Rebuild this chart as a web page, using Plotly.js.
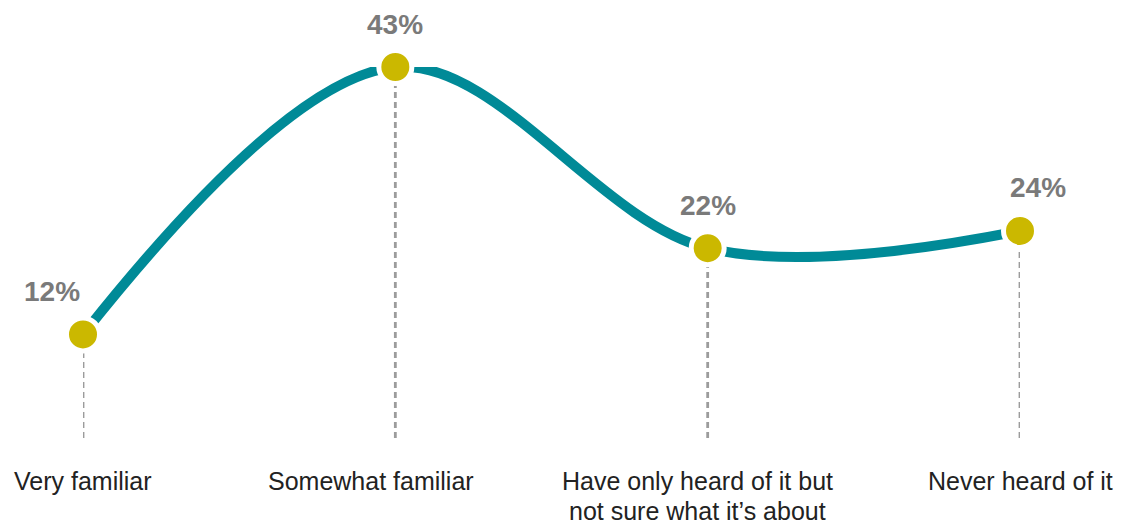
<!DOCTYPE html>
<html>
<head>
<meta charset="utf-8">
<script src="https://cdn.plot.ly/plotly-3.0.1.min.js"></script>
<style>html,body{margin:0;padding:0;background:#fff;}#chart{width:1131px;height:525px;}</style>
</head>
<body>
<div id="chart"></div>
<script>
// ---- data ----
const categories = ["Very familiar", "Somewhat familiar", "Have only heard of it but<br>not sure what it’s about", "Never heard of it"];
const values = [12, 43, 22, 24];
const valueLabels = ["12%", "43%", "22%", "24%"];

// ---- style ----
const TEAL = "#008a97";
const GOLD = "#cbb800";
const LABEL_GREY = "#7a7a7a";
const labelXShift = [-31, 0, 0, 18];
const catXShift = [0, -24, -10, 0];

const traces = [];
// dashed drop lines from each point to the baseline
categories.forEach((c, i) => {
  traces.push({
    x: [c, c], y: [0, values[i]],
    type: "scatter", mode: "lines",
    line: {color: "#9c9c9c", width: 2.8, dash: "6px,4px"},
    hoverinfo: "skip", showlegend: false
  });
});
// main smooth line with markers
traces.push({
  x: categories, y: values,
  type: "scatter", mode: "lines+markers",
  line: {color: TEAL, width: 10, shape: "spline", smoothing: 1},
  marker: {color: GOLD, size: 33, line: {color: "#ffffff", width: 5}},
  cliponaxis: false, hoverinfo: "skip", showlegend: false
});

const annotations = [];
// value labels above points
values.forEach((v, i) => {
  annotations.push({
    x: categories[i], y: v, xref: "x", yref: "y",
    text: valueLabels[i], showarrow: false,
    xanchor: "center", yanchor: "middle",
    xshift: labelXShift[i], yshift: 43,
    font: {family: "Liberation Sans, Arial, sans-serif", size: 28, color: LABEL_GREY, weight: "bold"}
  });
});
// category labels under the axis (split lines for tight line spacing)
categories.forEach((c, i) => {
  c.split("<br>").forEach((line, j) => {
    annotations.push({
      x: c, y: 0, xref: "x", yref: "y",
      text: line, showarrow: false,
      xanchor: "center", yanchor: "middle",
      xshift: catXShift[i],
      yshift: -43 - 30 * j,
      font: {family: "Liberation Sans, Arial, sans-serif", size: 25, color: "#222222"}
    });
  });
});

const layout = {
  width: 1131, height: 525,
  margin: {l: 83, r: 111, t: 67, b: 87, pad: 0},
  paper_bgcolor: "#ffffff", plot_bgcolor: "#ffffff",
  showlegend: false, hovermode: false,
  xaxis: {type: "category", range: [0, 3], showgrid: false, zeroline: false,
          showline: false, showticklabels: false, ticks: ""},
  yaxis: {range: [0, 43], showgrid: false, zeroline: false, showline: false,
          showticklabels: false, ticks: ""},
  annotations: annotations
};

Plotly.newPlot("chart", traces, layout, {displayModeBar: false, staticPlot: true});
</script>
</body>
</html>
